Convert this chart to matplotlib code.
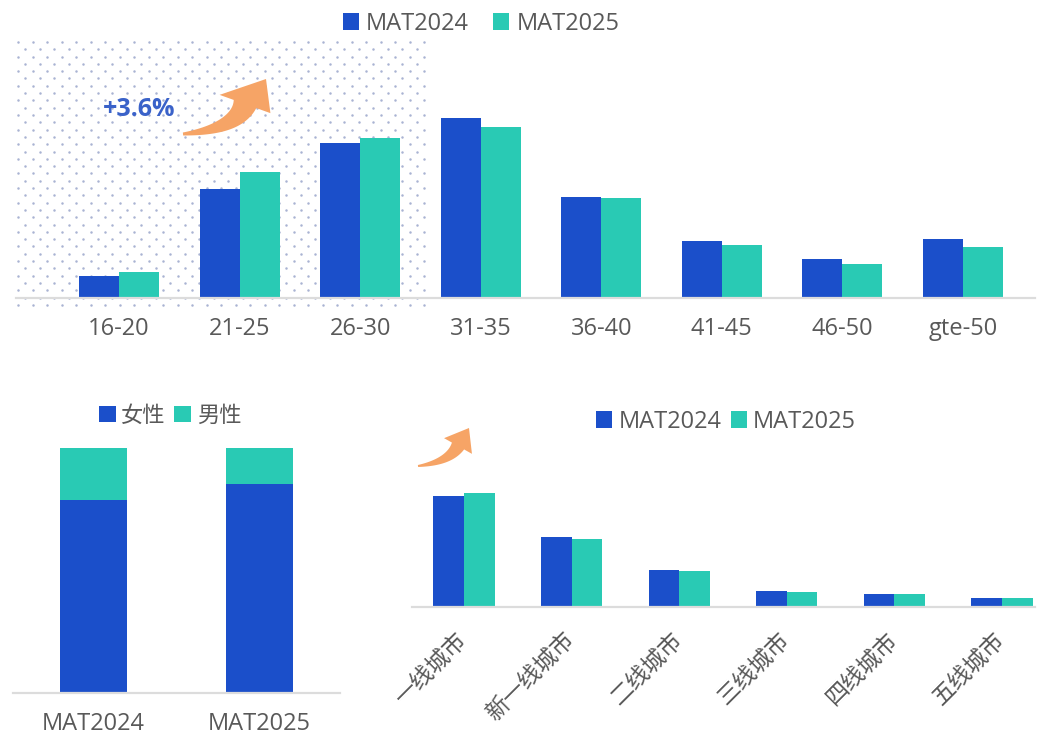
import numpy as np
import matplotlib
matplotlib.use("Agg")
import matplotlib.pyplot as plt
from matplotlib.patches import Polygon

plt.rcParams['font.family'] = ['Open Sans', 'Noto Sans CJK SC', 'DejaVu Sans']

# ---- data ----
age_groups = ["16-20", "21-25", "26-30", "31-35", "36-40", "41-45", "46-50", "gte-50"]
age_mat2024 = [3.0, 15.1, 21.5, 24.9, 14.0, 7.9, 5.4, 8.2]
age_mat2025 = [3.6, 17.4, 22.2, 23.7, 13.9, 7.4, 4.7, 7.1]

gender_periods = ["MAT2024", "MAT2025"]
female_share = [78.8, 85.3]
male_share = [21.2, 14.7]

city_tiers = ["一线城市", "新一线城市", "二线城市", "三线城市", "四线城市", "五线城市"]
city_mat2024 = [43.4, 27.3, 14.5, 6.3, 5.1, 3.5]
city_mat2025 = [44.7, 26.7, 14.1, 5.9, 5.1, 3.5]

young_share_gain = "+3.6%"

# ---- style ----
BLUE = "#1b4fca"
TEAL = "#29cab4"
ORANGE = "#f6a466"
GRID = "#dcdcdc"
TXT = "#595959"

W, H = 1038, 736
fig = plt.figure(figsize=(W / 100, H / 100), dpi=100)
fig.patch.set_facecolor("white")


def px_axes(left, top, right, bottom, **kw):
    """Axes placed from pixel edges (y measured downward)."""
    return fig.add_axes([left / W, (H - bottom) / H, (right - left) / W, (bottom - top) / H], **kw)


def style_axes(ax):
    ax.set_facecolor("none")
    for s in ("top", "right", "left"):
        ax.spines[s].set_visible(False)
    ax.spines["bottom"].set_color(GRID)
    ax.spines["bottom"].set_linewidth(1.6)
    ax.set_yticks([])
    ax.tick_params(axis="x", length=0, colors=TXT)


# ---- background dot pattern and overlay layer ----
bg = fig.add_axes([0, 0, 1, 1], zorder=0)
bg.set_xlim(0, W)
bg.set_ylim(H, 0)
bg.axis("off")
dx, dy = 14.5, 7.3
xs, ys = [], []
row = 0
y = 42.0
while y < 305:
    x0 = 18.0 + (dx / 2 if row % 2 else 0.0)
    x = x0
    while x < 430:
        xs.append(x)
        ys.append(y)
        x += dx
    y += dy
    row += 1
bg.scatter(xs, ys, s=3.2, color="#a9b3d3", linewidths=0)

# ---- top: age distribution ----
ax1 = px_axes(16, 100, 1035, 298, zorder=2)
style_axes(ax1)
xa = np.arange(len(age_groups))
bw = 0.332
b24 = ax1.bar(xa - bw / 2, age_mat2024, bw, color=BLUE, label="MAT2024")
b25 = ax1.bar(xa + bw / 2, age_mat2025, bw, color=TEAL, label="MAT2025")
ax1.set_xlim(-0.854, 7.597)
ax1.set_ylim(0, 27.4)
ax1.set_xticks(xa)
ax1.set_xticklabels(age_groups, fontsize=17)
ax1.tick_params(axis="x", pad=14)
ax1.legend(handles=[b24, b25], loc="center", bbox_to_anchor=(481 / W, (H - 24) / H),
           bbox_transform=fig.transFigure, ncol=2, frameon=False, fontsize=17,
           handlelength=0.7, handleheight=0.7, handletextpad=0.3, columnspacing=1.0,
           labelcolor=TXT)

# ---- bottom left: gender split ----
ax2 = px_axes(13, 448, 340, 693, zorder=2)
style_axes(ax2)
xg = np.arange(len(gender_periods))
f_bars = ax2.bar(xg, female_share, 0.40, color=BLUE, label="女性")
m_bars = ax2.bar(xg, male_share, 0.40, bottom=female_share, color=TEAL, label="男性")
ax2.set_xlim(-0.485, 1.485)
ax2.set_ylim(0, 100)
ax2.set_xticks(xg)
ax2.set_xticklabels(gender_periods, fontsize=17)
ax2.tick_params(axis="x", pad=14)
ax2.legend(handles=[f_bars, m_bars], loc="center", bbox_to_anchor=(170 / W, (H - 416) / H),
           bbox_transform=fig.transFigure, ncol=2, frameon=False, fontsize=16,
           handlelength=0.75, handleheight=0.75, handletextpad=0.25, columnspacing=0.4,
           labelcolor=TXT)

# ---- bottom right: city tiers ----
ax3 = px_axes(412, 460, 1035, 607, zorder=2)
style_axes(ax3)
xc = np.arange(len(city_tiers))
cw = 0.284
c24 = ax3.bar(xc - cw / 2, city_mat2024, cw, color=BLUE, label="MAT2024")
c25 = ax3.bar(xc + cw / 2, city_mat2025, cw, color=TEAL, label="MAT2025")
ax3.set_xlim(-0.483, 5.307)
ax3.set_ylim(0, 57.4)
ax3.set_xticks(xc)
ax3.set_xticklabels(city_tiers, fontsize=16.5, rotation=45, ha="right", va="center",
                    rotation_mode="anchor")
ax3.tick_params(axis="x", pad=21)
ax3.legend(handles=[c24, c25], loc="center", bbox_to_anchor=(726 / W, (H - 422) / H),
           bbox_transform=fig.transFigure, ncol=2, frameon=False, fontsize=17,
           handlelength=0.7, handleheight=0.7, handletextpad=0.25, columnspacing=0.4,
           labelcolor=TXT)

# ---- annotation layer ----
fg = fig.add_axes([0, 0, 1, 1], zorder=5)
fg.set_xlim(0, W)
fg.set_ylim(H, 0)
fg.axis("off")
fg.patch.set_alpha(0)


def curved_arrow(ax, p0, c, p1, tip, w0, w1, head_w, color):
    p0, c, p1, tip = map(np.asarray, (p0, c, p1, tip))
    t = np.linspace(0, 1, 50)[:, None]
    pts = (1 - t) ** 2 * p0 + 2 * (1 - t) * t * c + t ** 2 * p1
    der = 2 * (1 - t) * (c - p0) + 2 * t * (p1 - c)
    nrm = np.column_stack([-der[:, 1], der[:, 0]])
    nrm /= np.linalg.norm(nrm, axis=1)[:, None]
    w = (w0 + (w1 - w0) * t) / 2
    left = pts + nrm * w
    right = pts - nrm * w
    n1 = nrm[-1]
    poly = np.vstack([left, p1 + n1 * head_w / 2, tip, p1 - n1 * head_w / 2, right[::-1]])
    ax.add_patch(Polygon(poly, closed=True, facecolor=color, edgecolor="none"))


curved_arrow(fg, (183, 134), (236, 129), (245, 104), (266, 79), 3, 24, 54, ORANGE)
curved_arrow(fg, (418, 466), (449, 462), (458, 446), (469, 428), 2, 14, 32, ORANGE)

fg.text(139, 110, young_share_gain, color="#3a62c9", fontsize=18, fontweight="bold",
        ha="center", va="center")

fig.savefig("out.png", dpi=100, facecolor="white")
